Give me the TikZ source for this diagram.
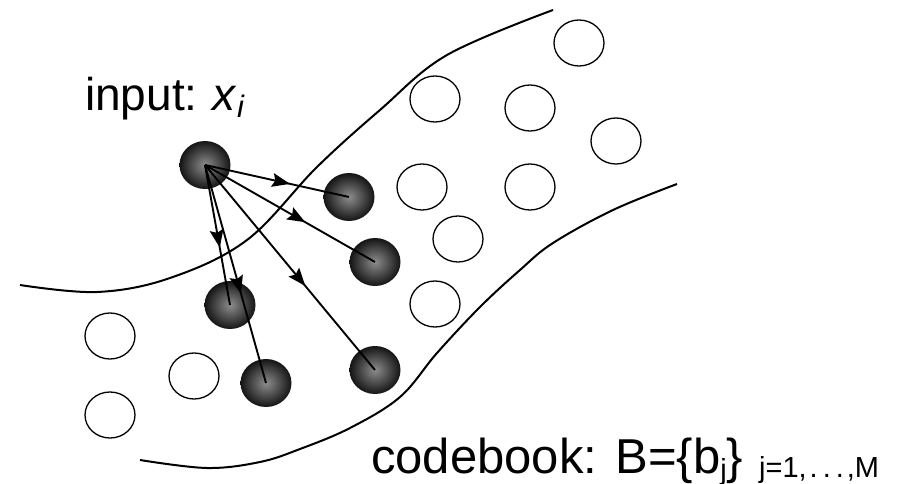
\documentclass[tikz,border=0pt]{standalone}
\usepackage{fontspec}
\setmainfont{Liberation Sans}
\usetikzlibrary{shapes.geometric,calc}
\newcommand\arrowmid[2]{%
  \coordinate (t#1#2) at ($(#1.center)!0.59!(#2.center)$);
  \coordinate (k#1#2) at ($(t#1#2)!18pt!(#1.center)$);
  \fill ($(t#1#2)$) -- ($(k#1#2)!7pt!90:(t#1#2)$) -- ($(k#1#2)!3pt!(t#1#2)$) -- ($(k#1#2)!7pt!-90:(t#1#2)$) -- cycle;}
\begin{document}
\begin{tikzpicture}[x=1pt,y=-1pt,
 open/.style={ellipse,draw=black,line width=1.3pt,minimum width=50pt,minimum height=46pt,inner sep=0pt,fill=white},
 dark/.style={ellipse,minimum width=51pt,minimum height=48pt,inner sep=0pt,inner color=black!45,outer color=black!92},
 link/.style={line width=1.9pt},
 curve/.style={line width=2pt}
]
\useasboundingbox (0,0) rectangle (898,484);
% boundary curves
\draw[curve] plot[smooth, tension=0.6] coordinates {(20,285) (97,292) (170,278) (247,240) (317,167) (380,110) (447,55) (553,10)};
\draw[curve] plot[smooth, tension=0.6] coordinates {(140,460) (207,468) (260,462) (300,449) (350,428) (400,397) (437,353) (480,307) (520,270) (553,243) (613,210) (677,184)};
% open codebook vectors
\node[open] (o1) at (579,43) {};
\node[open] (o2) at (435,99) {};
\node[open] (o3) at (530,108) {};
\node[open] (o4) at (616,141) {};
\node[open] (o5) at (422,187) {};
\node[open] (o6) at (530,187) {};
\node[open] (o7) at (458,239) {};
\node[open] (o8) at (435,304) {};
\node[open] (o9) at (110,336) {};
\node[open] (o10) at (194,376) {};
\node[open] (o11) at (110,415) {};
% dark vectors
\node[dark] (x) at (205,165) {};
\node[dark] (a) at (349,197) {};
\node[dark] (b) at (375,262) {};
\node[dark] (c) at (230,305) {};
\node[dark] (d) at (266,383) {};
\node[dark] (e) at (375,370) {};
% connectors
\draw[link] (x.center) -- (a.center);
\draw[link] (x.center) -- (b.center);
\draw[link] (x.center) -- (c.center);
\draw[link] (x.center) -- (d.center);
\draw[link] (x.center) -- (e.center);
\arrowmid{x}{a}
\arrowmid{x}{b}
\arrowmid{x}{c}
\arrowmid{x}{d}
\arrowmid{x}{e}
% labels
\node[anchor=base west, inner sep=0pt, font=\fontsize{46}{52}\selectfont] (inp) at (85,111) {input:\hspace{15pt}\textit{x}\raisebox{-7pt}{\fontsize{31}{33}\selectfont\itshape i}};
\node[anchor=base west, inner sep=0pt, font=\fontsize{49}{54}\selectfont] (cb) at (371,473) {codebook: B=\{b\raisebox{-6pt}{\fontsize{29}{30}\selectfont j}\}\hspace{16pt}\raisebox{-4pt}{\fontsize{29}{30}\selectfont j=1,\kern3pt.\kern5pt.\kern5pt.\kern3pt,M}};
\end{tikzpicture}
\end{document}
